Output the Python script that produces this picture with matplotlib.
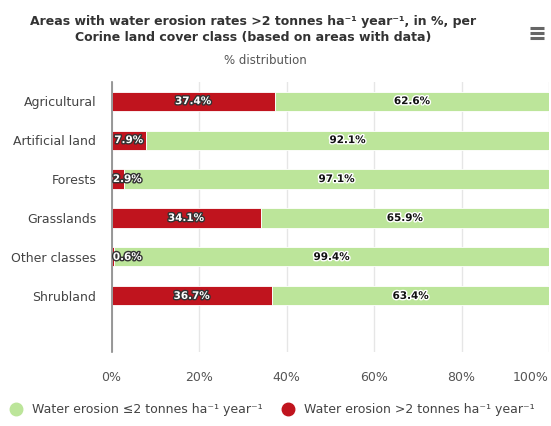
import numpy as np
import matplotlib.pyplot as plt
import matplotlib.patheffects as pe
from matplotlib.lines import Line2D

categories = ["Agricultural", "Artificial land", "Forests", "Grasslands",
              "Other classes", "Shrubland"]
above_2 = [37.4, 7.9, 2.9, 34.1, 0.6, 36.7]
below_2 = [62.6, 92.1, 97.1, 65.9, 99.4, 63.4]
xticks = [0, 20, 40, 60, 80, 100]

red = "#c0141e"
green = "#bce59a"

plt.rcParams['font.family'] = ['DejaVu Sans']

fig = plt.figure(figsize=(5.51, 4.26), dpi=100)
ax = fig.add_axes([111.5 / 551, 1 - 352 / 426, 437.5 / 551, 270 / 426])

y = np.arange(len(categories))
h = 0.49
ax.barh(y, above_2, height=h, color=red, edgecolor="white", linewidth=0.6, zorder=3)
ax.barh(y, below_2, left=above_2, height=h, color=green, edgecolor="white",
        linewidth=0.6, zorder=3)

for i in range(len(categories)):
    r = above_2[i]
    g = below_2[i]
    if r < 6:
        ax.text(0.3, i, f"{r}%", ha="left", va="center", fontsize=7.5,
                fontweight="bold", color="white", zorder=5,
                path_effects=[pe.withStroke(linewidth=2, foreground="#333333")])
    else:
        ax.text(r / 2, i, f"{r}%", ha="center", va="center", fontsize=7.5,
                fontweight="bold", color="white", zorder=5,
                path_effects=[pe.withStroke(linewidth=2, foreground="#333333")])
    ax.text(r + g / 2, i, f"{g}%", ha="center", va="center", fontsize=7.5,
            fontweight="bold", color="#111111", zorder=5,
            path_effects=[pe.withStroke(linewidth=2, foreground="white")])

ax.set_xlim(0, 100)
ax.set_ylim(6.44, -0.49)
ax.set_yticks(y)
ax.set_yticklabels(categories, fontsize=9, color="#444444")
ax.set_xticks(xticks)
ax.set_xticklabels([f"{t}%" for t in xticks], fontsize=9, color="#555555")
ax.get_xticklabels()[-1].set_horizontalalignment("right")
ax.tick_params(axis="y", length=0, pad=11)
ax.tick_params(axis="x", length=0, pad=14)
ax.grid(axis="x", color="#e6e6e6", linewidth=1, zorder=0)
for s in ["top", "right", "bottom"]:
    ax.spines[s].set_visible(False)
ax.spines["left"].set_color("#888888")
ax.spines["left"].set_linewidth(1.2)
ax.spines["left"].set_zorder(4)

fig.text(253 / 551, 1 - 29.5 / 426,
         "Areas with water erosion rates >2 tonnes ha\u207b\u00b9 year\u207b\u00b9, in %, per\n"
         "Corine land cover class (based on areas with data)",
         ha="center", va="center", fontsize=9, fontweight="bold",
         color="#333333", linespacing=1.2)
fig.text(265 / 551, 1 - 60 / 426, "% distribution", ha="center", va="center",
         fontsize=8.5, color="#555555")

# menu icon
for dy in (-5, 0, 5):
    yy = 1 - (33 + dy) / 426
    fig.add_artist(Line2D([530 / 551, 544 / 551], [yy, yy], color="#666666",
                          linewidth=2.2, solid_capstyle="butt"))

handles = [
    Line2D([], [], marker="o", linestyle="", markersize=9, color=green),
    Line2D([], [], marker="o", linestyle="", markersize=9, color=red),
]
fig.legend(handles,
           ["Water erosion \u22642 tonnes ha\u207b\u00b9 year\u207b\u00b9",
            "Water erosion >2 tonnes ha\u207b\u00b9 year\u207b\u00b9"],
           loc="center", bbox_to_anchor=(0.488, 1 - 410 / 426), ncol=2,
           frameon=False, fontsize=9, handletextpad=0.3, columnspacing=1.0,
           labelcolor="#444444")

fig.savefig("out.png", dpi=100)
